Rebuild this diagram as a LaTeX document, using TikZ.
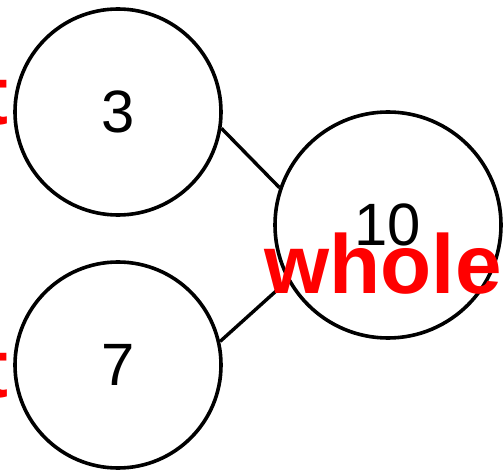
\documentclass[tikz,border=0pt]{standalone}
\usepackage{fontspec}
\setmainfont{Liberation Sans}
\usetikzlibrary{positioning}

\begin{document}
\begin{tikzpicture}[x=1bp,y=-1bp]
	\useasboundingbox (0,0) rectangle (504,470);
	\clip (0,0) rectangle (504,470);
	\foreach \v/\px/\py/\d [count=\n] in {3/118/112/206,7/118/365/206,10/388/225/226}
		\node[draw,circle,line width=3.6bp,minimum size=\d bp,inner sep=0pt,font=\fontsize{60}{60}\selectfont](N\n) at (\px,\py){\v};

	\draw[line width=3.4bp] (N1.-9) -- (N3.161);
	\draw[line width=3.4bp] (N2.13) -- (N3.209);

	\node[red,inner sep=0pt,anchor=base,font=\bfseries\fontsize{84}{84}\selectfont](Lwhole) at (383,293){whole};
	\node[red,inner sep=0pt,anchor=base east,font=\bfseries\fontsize{84}{84}\selectfont](Lpart1) at (9,125){part};
	\node[red,inner sep=0pt,anchor=base east,font=\bfseries\fontsize{84}{84}\selectfont](Lpart2) at (9,397){part};
\end{tikzpicture}
\end{document}
